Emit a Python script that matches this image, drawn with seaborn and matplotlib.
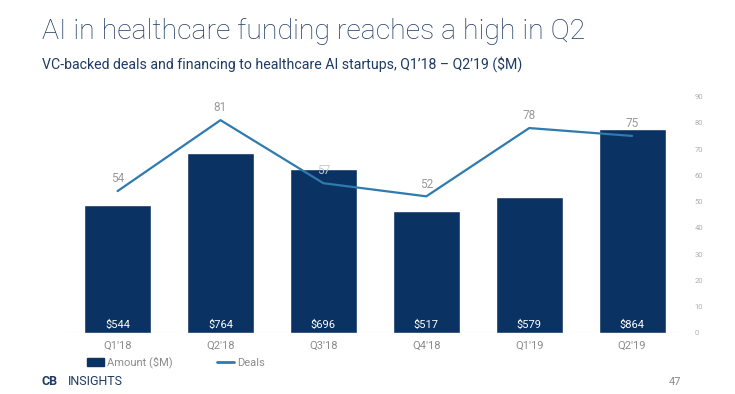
import numpy as np
import pandas as pd
import seaborn as sns
import matplotlib.pyplot as plt
from matplotlib.lines import Line2D
from matplotlib.patches import Patch

quarters = ["Q1'18", "Q2'18", "Q3'18", "Q4'18", "Q1'19", "Q2'19"]
amount = [544, 764, 696, 517, 579, 864]
deals = [54, 81, 57, 52, 78, 75]

df = pd.DataFrame({"quarter": quarters, "amount": amount, "deals": deals})

navy = "#0a3263"
line_blue = "#2f7aae"
grey = "#9a9a9a"

sns.set_theme(style="white")
plt.rcParams['font.family'] = ['Roboto', 'DejaVu Sans']

fig = plt.figure(figsize=(7.35, 3.94), dpi=100)
ax = fig.add_axes([0.09, 0.155, 0.84, 0.6])
ax2 = ax.twinx()

# bars for amount
sns.barplot(data=df, x="quarter", y="amount", color=navy, width=0.65,
            saturation=1, ax=ax)
ax.set_ylim(0, 1004)
ax.set_xlim(-0.5, 5.5)
for i, v in enumerate(amount):
    ax.text(i, 12, f"${v}", ha="center", va="bottom", color="white", fontsize=8)

# line for deals
sns.lineplot(data=df, x="quarter", y="deals", color=line_blue, linewidth=1.6,
             ax=ax2, sort=False)
ax2.set_ylim(0, 90)
ax2.set_yticks(range(0, 91, 10))
ax2.tick_params(axis="y", labelsize=5.5, labelcolor="#b0b0b0", length=0, pad=8)
for i, v in enumerate(deals):
    # label sitting on top of a bar gets a lighter colour
    c = "#c8cdd6" if amount[i] / 1004 * 90 > v + 5 else grey
    ax2.text(i, v + 2.2, str(v), ha="center", va="bottom", color=c, fontsize=8.5)

ax.set_yticks([])
ax.set_xlabel("")
ax.set_ylabel("")
ax2.set_ylabel("")
ax.tick_params(axis="x", labelsize=8, labelcolor="#8c8c8c", length=0, pad=6)
for a in (ax, ax2):
    for s in a.spines.values():
        s.set_visible(False)
ax.axhline(0, color="#d9d9d9", linewidth=0.8, zorder=0)

handles = [Patch(color=navy, label="Amount ($M)"),
           Line2D([], [], color=line_blue, linewidth=2, label="Deals")]
fig.legend(handles=handles, loc="lower left", bbox_to_anchor=(0.105, 0.04), ncol=2,
           frameon=False, fontsize=8, labelcolor="#8c8c8c", columnspacing=4,
           handlelength=1.5, handletextpad=0.3)

fig.text(0.057, 0.9, "AI in healthcare funding reaches a high in Q2",
         fontsize=20.5, color="#1f3b63", fontweight="light")
fig.text(0.057, 0.825, "VC-backed deals and financing to healthcare AI startups, Q1\u201918 \u2013 Q2\u201919 ($M)",
         fontsize=10.2, color="#1f3b63")
fig.text(0.057, 0.022, "CB", fontsize=9, color="#1f3b63", fontweight="bold")
fig.text(0.093, 0.022, "INSIGHTS", fontsize=9, color="#1f3b63")
fig.text(0.91, 0.022, "47", fontsize=8, color="#8c8c8c")

fig.savefig("out.png", dpi=100)
